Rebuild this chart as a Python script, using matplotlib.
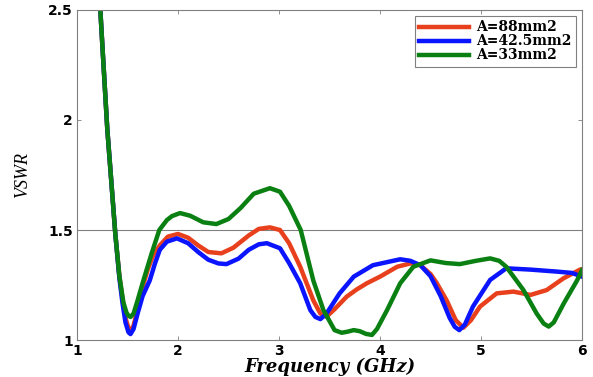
import numpy as np
import matplotlib
matplotlib.use('Agg')
import matplotlib.pyplot as plt

# VSWR curves (frequency in GHz)
x_red = [1.20, 1.25, 1.30, 1.34, 1.38, 1.42, 1.45, 1.48, 1.51, 1.535, 1.56, 1.60, 1.65, 1.70, 1.755, 1.82,
         1.90, 2.00, 2.10, 2.20, 2.30, 2.43, 2.55, 2.70, 2.80, 2.91, 3.01, 3.10, 3.21, 3.34, 3.41, 3.47,
         3.55, 3.67, 3.77, 3.87, 4.00, 4.17, 4.30, 4.40, 4.50, 4.56, 4.66, 4.75, 4.825, 4.90, 4.99, 5.155,
         5.32, 5.49, 5.65, 5.815, 5.98, 6.0]
y_red = [2.75, 2.35, 1.96, 1.72, 1.48, 1.29, 1.19, 1.10, 1.055, 1.045, 1.065, 1.14, 1.24, 1.32, 1.385, 1.43,
         1.47, 1.482, 1.465, 1.43, 1.40, 1.394, 1.42, 1.475, 1.505, 1.512, 1.50, 1.44, 1.333, 1.18, 1.12, 1.106,
         1.14, 1.197, 1.23, 1.258, 1.288, 1.333, 1.348, 1.34, 1.30, 1.26, 1.18, 1.09, 1.056, 1.09, 1.152, 1.212,
         1.22, 1.205, 1.227, 1.28, 1.32, 1.322]

x_blue = [1.20, 1.25, 1.30, 1.34, 1.38, 1.42, 1.45, 1.48, 1.51, 1.53, 1.56, 1.60, 1.65, 1.72, 1.77, 1.82,
          1.89, 1.99, 2.10, 2.20, 2.30, 2.40, 2.48, 2.60, 2.70, 2.80, 2.88, 3.01, 3.10, 3.21, 3.31, 3.36,
          3.41, 3.47, 3.60, 3.74, 3.93, 4.20, 4.30, 4.40, 4.50, 4.60, 4.69, 4.74, 4.785, 4.84, 4.92, 5.09,
          5.25, 5.49, 5.75, 5.90, 6.0]
y_blue = [2.75, 2.35, 1.96, 1.72, 1.48, 1.28, 1.17, 1.08, 1.035, 1.027, 1.05, 1.12, 1.20, 1.27, 1.345, 1.41,
          1.447, 1.462, 1.44, 1.40, 1.365, 1.348, 1.345, 1.37, 1.41, 1.435, 1.44, 1.417, 1.35, 1.258, 1.136, 1.105,
          1.095, 1.12, 1.212, 1.288, 1.34, 1.367, 1.36, 1.34, 1.29, 1.20, 1.10, 1.06, 1.045, 1.07, 1.152, 1.273,
          1.326, 1.32, 1.311, 1.305, 1.288]

x_green = [1.20, 1.25, 1.30, 1.34, 1.38, 1.42, 1.46, 1.49, 1.51, 1.53, 1.56, 1.60, 1.657, 1.74, 1.815, 1.89,
           1.94, 2.02, 2.12, 2.25, 2.38, 2.50, 2.62, 2.75, 2.91, 3.01, 3.10, 3.215, 3.34, 3.44, 3.55, 3.62,
           3.68, 3.74, 3.80, 3.86, 3.92, 3.97, 4.07, 4.20, 4.33, 4.50, 4.65, 4.79, 4.95, 5.09, 5.18, 5.25,
           5.42, 5.55, 5.62, 5.67, 5.72, 5.82, 5.95, 6.0]
y_green = [2.75, 2.35, 1.96, 1.72, 1.48, 1.29, 1.17, 1.125, 1.11, 1.105, 1.12, 1.18, 1.27, 1.395, 1.50, 1.545,
           1.563, 1.577, 1.565, 1.535, 1.527, 1.55, 1.60, 1.665, 1.69, 1.674, 1.61, 1.50, 1.27, 1.136, 1.045, 1.033,
           1.038, 1.045, 1.04, 1.028, 1.023, 1.05, 1.136, 1.258, 1.333, 1.362, 1.35, 1.345, 1.36, 1.371, 1.36, 1.333,
           1.227, 1.121, 1.075, 1.061, 1.08, 1.167, 1.27, 1.318]

labels = ['A=88mm2', 'A=42.5mm2', 'A=33mm2']

fig = plt.figure(figsize=(5.93, 3.77), dpi=100)
ax = fig.add_axes([0.1298, 0.0981, 0.8517, 0.8754])

ax.axhline(1.5, color='#808080', lw=0.8, zorder=1)
ax.plot(x_red, y_red, color='#e8401c', lw=3.2, label=labels[0])
ax.plot(x_blue, y_blue, color='#0a14ff', lw=3.2, label=labels[1])
ax.plot(x_green, y_green, color='#0b8012', lw=3.2, label=labels[2])

ax.set_xlim(1, 6)
ax.set_ylim(1, 2.5)
ax.set_xticks([1, 2, 3, 4, 5, 6])
ax.set_yticks([1, 1.5, 2, 2.5])
ax.set_yticklabels(['1', '1.5', '2', '2.5'])
ax.tick_params(direction='in', top=True, right=True, length=3, width=0.6, color='#808080', pad=3)
for lab in ax.get_xticklabels() + ax.get_yticklabels():
    lab.set_fontfamily('DejaVu Sans')
    lab.set_fontweight('bold')
    lab.set_fontsize(10)
for s in ax.spines.values():
    s.set_color('#808080')
    s.set_linewidth(0.8)

ax.set_xlabel('Frequency (GHz)', fontfamily='DejaVu Serif', fontweight='bold', fontstyle='italic',
              fontsize=13, labelpad=0)
ax.set_ylabel('VSWR', fontfamily='Liberation Serif', fontstyle='italic', fontsize=13, labelpad=12)

leg = ax.legend(loc='upper right', prop={'family': 'DejaVu Serif', 'weight': 'bold', 'size': 10},
                handlelength=3.6, fancybox=False, edgecolor='#808080', framealpha=1,
                borderpad=0.3, labelspacing=0.0, handletextpad=0.5, borderaxespad=0.45)
leg.get_frame().set_linewidth(0.8)

plt.savefig('out.png', dpi=100)
